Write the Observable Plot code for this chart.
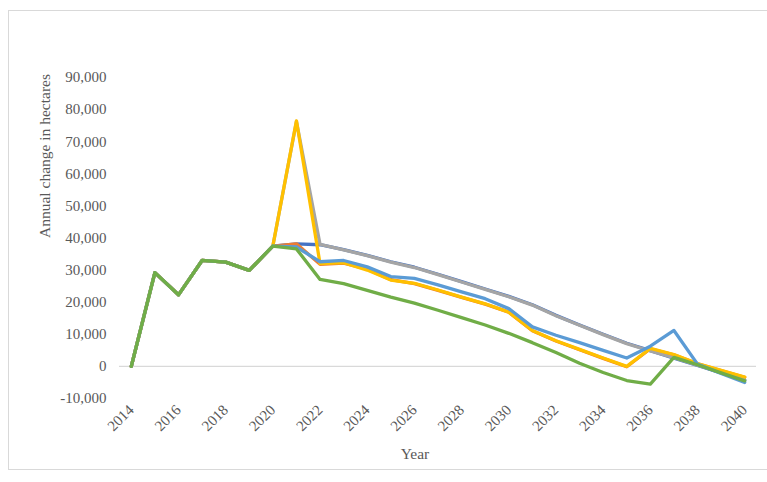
<!DOCTYPE html>
<html>
<head>
<meta charset="utf-8">
<script src="https://cdn.jsdelivr.net/npm/d3@7"></script>
<script src="https://cdn.jsdelivr.net/npm/@observablehq/plot@0.6"></script>
<style>
  html, body { margin: 0; padding: 0; background: #fff; }
  #wrap { position: relative; width: 767px; height: 482px; overflow: hidden; }
  #frame { position: absolute; left: 8px; top: 10px; width: 780px; height: 460px; border: 1px solid #d9d9d9; box-sizing: border-box; }
  #chart { position: absolute; left: 0; top: 0; }
  #chart svg, #chart svg text { font-family: "Liberation Serif", "Times New Roman", serif !important; }
</style>
</head>
<body>
<div id="wrap"><div id="frame"></div><div id="chart"></div></div>
<script>
const years = [2014, 2015, 2016, 2017, 2018, 2019, 2020, 2021, 2022, 2023, 2024, 2025, 2026, 2027,
  2028, 2029, 2030, 2031, 2032, 2033, 2034, 2035, 2036, 2037, 2038, 2039, 2040];
const tickYears = [2014, 2016, 2018, 2020, 2022, 2024, 2026, 2028, 2030, 2032, 2034, 2036, 2038, 2040];
const yTicks = [-10000, 0, 10000, 20000, 30000, 40000, 50000, 60000, 70000, 80000, 90000];

// 2014–2020 shared by every series
const common = [0, 29200, 22300, 33000, 32500, 29900, 37500];
const series1 = common.concat([38200, 37900, 36400, 34600, 32600, 30900, 28700, 26400, 24100, 21800, 19200, 15900, 12900, 10000, 7200, 4900, 2600, 300, -2000, -4300]);
const series2 = common.concat([38200, 31800, 32200, 30300, 27000, 25800, 23700, 21500, 19400, 16900, 11100, 7900, 5200, 2500, -100, 5500, 3600, 800, -1300, -3400]);
const series3 = common.concat([76300, 38000, 36300, 34500, 32500, 30800, 28600, 26300, 24000, 21700, 19100, 15800, 12800, 9900, 7100, 4800, 2700, 400, -1900, -4200]);
const series4 = common.concat([76500, 32000, 32300, 30000, 26900, 25900, 23800, 21600, 19500, 16900, 11200, 8000, 5300, 2600, 0, 5600, 3700, 900, -1200, -3300]);
const series5 = common.concat([37200, 32600, 33000, 31000, 28000, 27400, 25400, 23200, 21100, 18000, 12300, 9700, 7400, 5000, 2600, 6300, 11200, 700, -2200, -5000]);
const series6 = common.concat([36600, 27100, 25800, 23700, 21600, 19700, 17500, 15200, 12900, 10300, 7400, 4300, 1000, -1900, -4400, -5500, 2800, 500, -2000, -4500]);

const seriesNames = ["Series 1", "Series 2", "Series 3", "Series 4", "Series 5", "Series 6"];
const seriesValues = [series1, series2, series3, series4, series5, series6];
const colors = ["#4472C4", "#ED7D31", "#A5A5A5", "#FFC000", "#5B9BD5", "#70AD47"];

const data = seriesNames.flatMap((name, i) =>
  years.map((year, j) => ({series: name, year, value: seriesValues[i][j]})));

const fmt = d => d.toLocaleString("en-US");

const chart = Plot.plot({
  width: 767,
  height: 482,
  marginLeft: 119,
  marginRight: 11,
  marginTop: 77,
  marginBottom: 84,
  style: {background: "transparent", overflow: "visible"},
  x: {domain: [2013.5, 2040.5]},
  y: {domain: [-10000, 90000]},
  color: {domain: seriesNames, range: colors},
  marks: [
    Plot.ruleY([0], {stroke: "#d9d9d9", strokeWidth: 1.3}),
    Plot.axisY({ticks: yTicks, tickSize: 0, tickPadding: 13, tickFormat: fmt, label: null, fill: "#595959", fontSize: 15}),
    Plot.axisX({ticks: tickYears, tickSize: 0, tickPadding: 9, tickRotate: -45, tickFormat: d => String(d), textAnchor: "end", label: null, fill: "#595959", fontSize: 15}),
    Plot.lineY(data, {x: "year", y: "value", z: "series", stroke: "series", strokeWidth: 3.3, strokeLinejoin: "round", strokeLinecap: "round"}),
    Plot.text(["Annual change in hectares"], {frameAnchor: "left", rotate: -90, dx: -74, fontSize: 15.5, fill: "#595959"}),
    Plot.text(["Year"], {frameAnchor: "bottom", dx: -23, dy: 60, fontSize: 15.5, fill: "#595959"})
  ]
});
document.getElementById("chart").appendChild(chart);
</script>
</body>
</html>
